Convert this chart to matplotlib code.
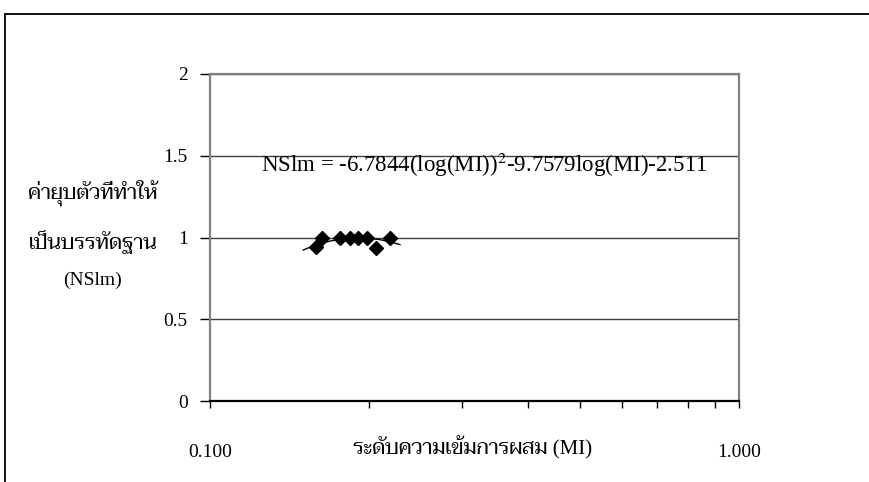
import numpy as np
import matplotlib
matplotlib.use("Agg")
import matplotlib.pyplot as plt
from matplotlib.patches import Rectangle
from matplotlib.ticker import FixedLocator, NullFormatter

plt.rcParams['font.family'] = ['Liberation Serif', 'Taviraj']
plt.rcParams['mathtext.fontset'] = 'stix'

# measured mixing index vs. normalising factor
mi = [0.1586, 0.1631, 0.1762, 0.1840, 0.1907, 0.1983, 0.2060, 0.2189]
nslm = [0.94, 1.0, 1.0, 1.0, 1.0, 1.0, 0.935, 1.0]

# quadratic trend in log(MI)
coef = [-6.7844, -9.7579, -2.511]
trend_range = [0.150, 0.2286]

y_ticks = [0, 0.5, 1, 1.5, 2]
y_ticklabels = ["0", "0.5", "1", "1.5", "2"]
x_major = [0.1, 1.0]
x_major_labels = ["0.100", "1.000"]
x_minor = [0.2, 0.3, 0.4, 0.5, 0.6, 0.7, 0.8, 0.9]

equation = "NSlm = -6.7844(log(MI))$^{2}$-9.7579log(MI)-2.511"
y_label_lines = ["ค่ายุบตัวที่ทำให้", "เป็นบรรทัดฐาน", "(NSlm)"]
x_label = "ระดับความเข้มการผสม (MI)"

W, H = 869, 482
fig = plt.figure(figsize=(W / 100, H / 100), dpi=100)
fig.patch.set_facecolor("white")

# outer chart frame
fig.patches.append(Rectangle((5 / W, -0.1), 1.2, 1.1 - 14 / H, transform=fig.transFigure,
                             fill=False, edgecolor="black", linewidth=1.3))

ax = fig.add_axes([210 / W, 1 - 401 / H, 529 / W, (401 - 74) / H])
ax.set_xscale("log")
ax.set_xlim(0.1, 1.0)
ax.set_ylim(0, 2)

for y in y_ticks[1:]:
    ax.axhline(y, color="#404040", linewidth=1.0, zorder=1)

xs = np.logspace(np.log10(trend_range[0]), np.log10(trend_range[1]), 200)
L = np.log10(xs)
ax.plot(xs, coef[0] * L ** 2 + coef[1] * L + coef[2], color="black", linewidth=1.0, zorder=2)

ax.plot(mi, nslm, linestyle="none", marker="D", markersize=7.5,
        color="black", zorder=3)

ax.set_yticks(y_ticks)
ax.set_yticklabels(y_ticklabels, fontsize=14)
ax.tick_params(axis="y", direction="out", length=7, width=1, pad=9, color="black")

ax.xaxis.set_major_locator(FixedLocator(x_major))
ax.set_xticklabels(x_major_labels, fontsize=14)
ax.xaxis.set_minor_locator(FixedLocator(x_minor))
ax.xaxis.set_minor_formatter(NullFormatter())
ax.tick_params(axis="x", which="both", direction="out", length=5, width=1, pad=26, color="black")

for side in ("left", "top", "right"):
    ax.spines[side].set_color("#808080")
    ax.spines[side].set_linewidth(1.6)
ax.spines["bottom"].set_color("black")
ax.spines["bottom"].set_linewidth(1.6)

# trend equation
fig.text(484 / W, 1 - 165 / H, equation, fontsize=16.5, ha="center", va="center")

# axis titles
ys = [193, 242, 280]
for line, yp, fs in zip(y_label_lines, ys, [15, 15, 14]):
    fig.text(93 / W, 1 - yp / H, line, fontsize=fs, ha="center", va="center")
fig.text(473 / W, 1 - 448 / H, x_label, fontsize=15, ha="center", va="center")

fig.savefig("out.png", dpi=100)
